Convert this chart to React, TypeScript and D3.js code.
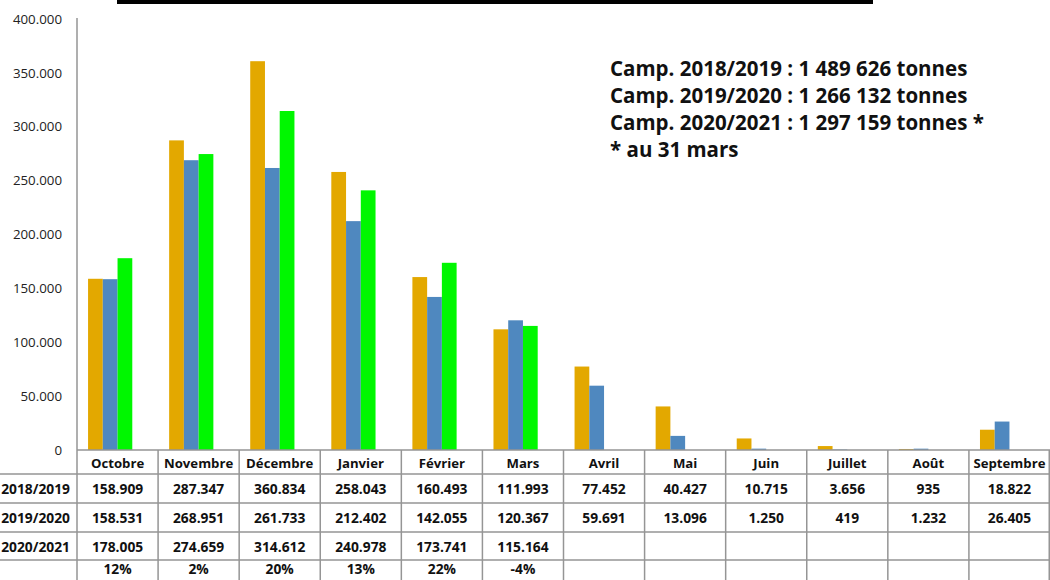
import React from "react";
import * as d3 from "d3";

const months = ["Octobre", "Novembre", "Décembre", "Janvier", "Février", "Mars", "Avril", "Mai", "Juin", "Juillet", "Août", "Septembre"];
const seriesNames = ["2018/2019", "2019/2020", "2020/2021"];
const s2018: (number | null)[] = [158909, 287347, 360834, 258043, 160493, 111993, 77452, 40427, 10715, 3656, 935, 18822];
const s2019: (number | null)[] = [158531, 268951, 261733, 212402, 142055, 120367, 59691, 13096, 1250, 419, 1232, 26405];
const s2020: (number | null)[] = [178005, 274659, 314612, 240978, 173741, 115164, null, null, null, null, null, null];
const pctRow: string[] = ["12%", "2%", "20%", "13%", "22%", "-4%", "", "", "", "", "", ""];
const yTicks = [0, 50000, 100000, 150000, 200000, 250000, 300000, 350000, 400000];
const notes = [
  "Camp. 2018/2019 : 1 489 626 tonnes",
  "Camp. 2019/2020 : 1 266 132 tonnes",
  "Camp. 2020/2021 : 1 297 159 tonnes *",
  "* au 31 mars",
];
const colors = ["#E3A800", "#4F88BF", "#00F700"];

const fmt = (v: number | null) => {
  if (v === null) return "";
  return d3.format(",")(v).replace(/,/g, ".");
};

export default function App() {
  const W = 1050, H = 580;
  const left = 77, right = 1050, top = 19, base = 450;
  const x = d3.scaleBand<string>().domain(months).range([left, right]).paddingInner(0).paddingOuter(0);
  const sub = d3.scaleBand<string>().domain(["a", "b", "c", "d"]).range([0, x.bandwidth()]).paddingInner(0).paddingOuter(0.75);
  const y = d3.scaleLinear().domain([0, 400000]).range([base, top]);
  const series = [s2018, s2019, s2020];
  const keys = ["a", "b", "c"];
  const rowLines = [474, 503, 532, 560];
  const rowCenters = [489, 518, 547, 569];
  const font = "'Open Sans', sans-serif";
  const grid = "#959595";
  const tfs = 13.8;
  return (
    <svg width={W} height={H} style={{ position: "absolute", left: 0, top: 0, background: "#fff" }} fontFamily={font}>
      <rect x={117} y={0} width={756} height={4} fill="#000" />
      {yTicks.map((t) => (
        <text key={t} x={62} y={y(t)} dy="0.35em" textAnchor="end" fontSize={13.3} fill="#222">
          {t === 0 ? "0" : fmt(t)}
        </text>
      ))}
      {series.map((s, si) =>
        s.map((v, i) =>
          v === null ? null : (
            <rect
              key={`${si}-${i}`}
              x={(x(months[i]) as number) + (sub(keys[si]) as number)}
              y={y(v)}
              width={sub.bandwidth()}
              height={base - y(v)}
              fill={colors[si]}
            />
          )
        )
      )}
      <line x1={left} x2={left} y1={top - 1} y2={H} stroke={grid} strokeWidth={1.5} />
      <line x1={left} x2={right} y1={base} y2={base} stroke={grid} strokeWidth={1.5} />
      {rowLines.map((ly) => (
        <line key={ly} x1={0} x2={right} y1={ly} y2={ly} stroke={grid} strokeWidth={1.5} />
      ))}
      {months.map((m, i) =>
        i === 0 ? null : (
          <line key={m} x1={x(m) as number} x2={x(m) as number} y1={base} y2={H} stroke={grid} strokeWidth={1.5} />
        )
      )}
      <line x1={right - 0.75} x2={right - 0.75} y1={base} y2={H} stroke={grid} strokeWidth={1.5} />
      {months.map((m) => (
        <text key={m} x={(x(m) as number) + x.bandwidth() / 2} y={463} dy="0.35em" textAnchor="middle" fontSize={13.2} fontWeight="bold" fill="#111">
          {m}
        </text>
      ))}
      {seriesNames.map((n, ri) => (
        <text key={n} x={70} y={rowCenters[ri]} dy="0.35em" textAnchor="end" fontSize={tfs} fontWeight="bold" fill="#111">
          {n}
        </text>
      ))}
      {series.map((s, ri) =>
        s.map((v, i) => (
          <text key={`${ri}-${i}`} x={(x(months[i]) as number) + x.bandwidth() / 2} y={rowCenters[ri]} dy="0.35em" textAnchor="middle" fontSize={tfs} fontWeight="bold" fill="#111">
            {fmt(v)}
          </text>
        ))
      )}
      {pctRow.map((p, i) => (
        <text key={`p${i}`} x={(x(months[i]) as number) + x.bandwidth() / 2} y={rowCenters[3]} dy="0.35em" textAnchor="middle" fontSize={tfs} fontWeight="bold" fill="#111">
          {p}
        </text>
      ))}
      {notes.map((n, i) => (
        <text key={i} x={610} y={69 + i * 26.8} dy="0.35em" fontSize={20.5} fontWeight="bold" fill="#111">
          {n}
        </text>
      ))}
    </svg>
  );
}
